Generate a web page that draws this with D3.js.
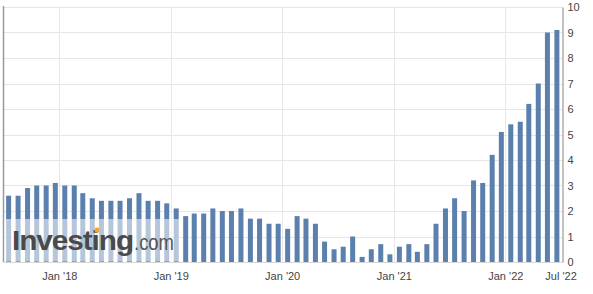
<!DOCTYPE html>
<html><head><meta charset="utf-8">
<script src="https://cdn.jsdelivr.net/npm/d3@7"></script>
<style>
html,body{margin:0;padding:0;background:#fff;}
svg{display:block;font-family:"Liberation Sans",Arial,sans-serif;}
</style></head>
<body>
<svg id="c" width="593" height="294"></svg>
<script>
// Reference months of the data (each bar plotted at its release date, ~19th of the following month)
const months = [
 "2017-06","2017-07","2017-08","2017-09","2017-10","2017-11","2017-12",
 "2018-01","2018-02","2018-03","2018-04","2018-05","2018-06","2018-07","2018-08","2018-09","2018-10","2018-11","2018-12",
 "2019-01","2019-02","2019-03","2019-04","2019-05","2019-06","2019-07","2019-08","2019-09","2019-10","2019-11","2019-12",
 "2020-01","2020-02","2020-03","2020-04","2020-05","2020-06","2020-07","2020-08","2020-09","2020-10","2020-11","2020-12",
 "2021-01","2021-02","2021-03","2021-04","2021-05","2021-06","2021-07","2021-08","2021-09","2021-10","2021-11","2021-12",
 "2022-01","2022-02","2022-03","2022-04","2022-05"];
const values = [
 2.6,2.6,2.9,3.0,3.0,3.1,3.0,
 3.0,2.7,2.5,2.4,2.4,2.4,2.5,2.7,2.4,2.4,2.3,2.1,
 1.8,1.9,1.9,2.1,2.0,2.0,2.1,1.7,1.7,1.5,1.5,1.3,
 1.8,1.7,1.5,0.8,0.5,0.6,1.0,0.2,0.5,0.7,0.3,0.6,
 0.7,0.4,0.7,1.5,2.1,2.5,2.0,3.2,3.1,4.2,5.1,5.4,
 5.5,6.2,7.0,9.0,9.1];
const xTickDates = ["2018-01-01","2019-01-01","2020-01-01","2021-01-01","2022-01-01","2022-07-01"];
const xTickLabels = ["Jan '18","Jan '19","Jan '20","Jan '21","Jan '22","Jul '22"];
const yTicks = [0,1,2,3,4,5,6,7,8,9,10];

const svg = d3.select("#c");
const parse = d3.timeParse("%Y-%m-%d");
const releaseDate = m => { const d = d3.timeParse("%Y-%m")(m); return new Date(d.getFullYear(), d.getMonth()+1, 19); };
const data = months.map((m,i)=>({date: releaseDate(m), v: values[i]}));

const plotL = 3.5, plotR = 562.5, plotT = 7, plotB = 262;
const x = d3.scaleTime().domain([parse("2018-01-01"), parse("2022-01-01")]).range([59.3, 505.3]);
const y = d3.scaleLinear().domain([0,10]).range([plotB, plotT]);

// horizontal grid
svg.append("g").selectAll("line").data(yTicks.filter(t=>t>0)).join("line")
  .attr("x1", plotL).attr("x2", plotR)
  .attr("y1", d=>Math.round(y(d))+0.5).attr("y2", d=>Math.round(y(d))+0.5)
  .attr("stroke", "#e6e6e6").attr("stroke-width", 1);
// vertical grid at Jan ticks
svg.append("g").selectAll("line").data(xTickDates.slice(0,5)).join("line")
  .attr("x1", d=>Math.round(x(parse(d)))+0.5).attr("x2", d=>Math.round(x(parse(d)))+0.5)
  .attr("y1", plotT).attr("y2", plotB)
  .attr("stroke", "#e8e8e8").attr("stroke-width", 1);

// bars
const bw = 5;
svg.append("g").selectAll("rect").data(data).join("rect")
  .attr("x", d=>x(d.date)-bw/2).attr("width", bw)
  .attr("y", d=>y(d.v)).attr("height", d=>y(0)-y(d.v))
  .attr("fill", "#5b80ad");

// bottom axis line
svg.append("line").attr("x1", plotL).attr("x2", plotR).attr("y1", plotB+0.5).attr("y2", plotB+0.5)
  .attr("stroke", "#d8d8d8");
// left border
svg.append("line").attr("x1", plotL).attr("x2", plotL).attr("y1", plotT-1).attr("y2", plotB)
  .attr("stroke", "#9a9a9a").attr("stroke-width", 1.5);

// right y axis
const yAxis = d3.axisRight(y).tickValues(yTicks).tickSize(0).tickPadding(5);
const gy = svg.append("g").attr("transform", `translate(${plotR},0)`).call(yAxis);
gy.select(".domain").attr("stroke", "#999").attr("stroke-width", 1.2);
gy.selectAll("text").attr("font-size", 11).attr("fill", "#444").attr("font-family", "'Liberation Sans',Arial,sans-serif");

// x axis labels
const xAxis = d3.axisBottom(x).tickValues(xTickDates.map(parse)).tickSize(0).tickPadding(10)
  .tickFormat((d,i)=>xTickLabels[i]);
const gx = svg.append("g").attr("transform", `translate(0,${plotB})`).call(xAxis);
gx.select(".domain").remove();
gx.selectAll("text").attr("font-size", 11).attr("fill", "#444").attr("font-family", "'Liberation Sans',Arial,sans-serif");

// watermark
const wm = svg.append("g");
wm.append("rect").attr("x", 4.5).attr("y", 219).attr("width", 175.5).attr("height", 42.5)
  .attr("fill", "#fff").attr("opacity", 0.55);
wm.append("text").attr("x", 12).attr("y", 250).attr("font-size", 28).attr("font-weight", "bold")
  .attr("fill", "#4a4a4a").attr("textLength", 121).attr("lengthAdjust", "spacingAndGlyphs")
  .attr("letter-spacing", -1).text("Investing");
wm.append("text").attr("x", 134).attr("y", 250).attr("font-size", 22)
  .attr("fill", "#555").attr("textLength", 40).attr("lengthAdjust", "spacingAndGlyphs").text(".com");
wm.append("circle").attr("cx", 97).attr("cy", 230).attr("r", 2.5).attr("fill", "#f5a623");
</script>
</body></html>
